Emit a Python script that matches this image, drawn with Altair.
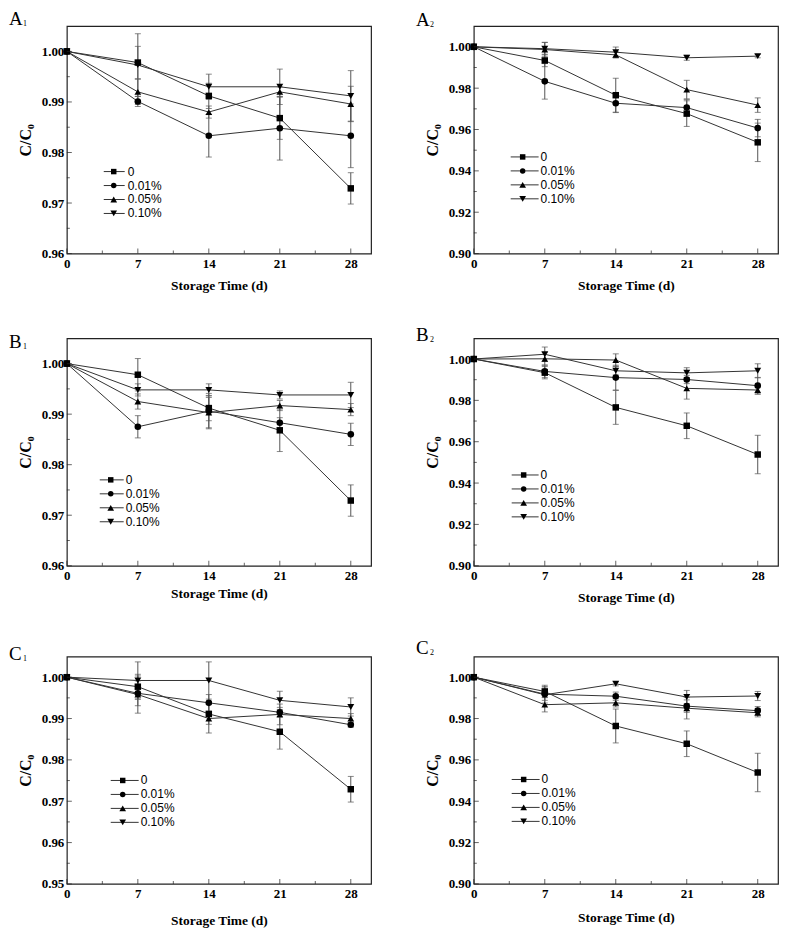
import altair as alt
import pandas as pd

DAYS = [0, 7, 14, 21, 28]
SERIES = ["0", "0.01%", "0.05%", "0.10%"]
SHAPES = ["square", "circle", "triangle-up", "triangle-down"]
X_MAJOR = [0, 7, 14, 21, 28]
X_MINOR = [3.5, 10.5, 17.5, 24.5]

# ---- panel A1 ----
A1_VALS = [
    [1.000, 0.9978, 0.9912, 0.9868, 0.9729],
    [1.000, 0.9901, 0.9833, 0.9848, 0.9833],
    [1.000, 0.9920, 0.9880, 0.9920, 0.9896],
    [1.000, 0.9973, 0.9930, 0.9930, 0.9912],
]
A1_ERRS = [
    [0, 0.0032, 0.0025, 0.0042, 0.0031],
    [0, 0.0010, 0.0042, 0.0063, 0.0063],
    [0, 0.0025, 0.0012, 0.0010, 0.0035],
    [0, 0.0062, 0.0025, 0.0035, 0.0050],
]
# ---- panel A2 ----
A2_VALS = [
    [1.000, 0.9934, 0.9766, 0.9677, 0.9538],
    [1.000, 0.9833, 0.9727, 0.9706, 0.9607],
    [1.000, 0.9987, 0.9961, 0.9793, 0.9718],
    [1.000, 0.9991, 0.9974, 0.9947, 0.9955],
]
A2_ERRS = [
    [0, 0.0030, 0.0082, 0.0062, 0.0093],
    [0, 0.0086, 0.0045, 0.0040, 0.0042],
    [0, 0.0035, 0.0015, 0.0045, 0.0035],
    [0, 0.0030, 0.0025, 0.0012, 0.0008],
]
# ---- panel B1 ----
B1_VALS = [
    [1.000, 0.9978, 0.9912, 0.9868, 0.9729],
    [1.000, 0.9875, 0.9906, 0.9883, 0.9860],
    [1.000, 0.9925, 0.9903, 0.9917, 0.9909],
    [1.000, 0.9948, 0.9948, 0.9938, 0.9938],
]
B1_ERRS = [
    [0, 0.0032, 0.0025, 0.0042, 0.0031],
    [0, 0.0022, 0.0035, 0.0010, 0.0022],
    [0, 0.0015, 0.0030, 0.0010, 0.0012],
    [0, 0.0012, 0.0012, 0.0008, 0.0025],
]
# ---- panel B2 ----
B2_VALS = [
    [1.000, 0.9934, 0.9766, 0.9677, 0.9538],
    [1.000, 0.9940, 0.9910, 0.9901, 0.9871],
    [1.000, 1.0001, 0.9995, 0.9858, 0.9850],
    [1.000, 1.0023, 0.9943, 0.9933, 0.9943],
]
B2_ERRS = [
    [0, 0.0030, 0.0082, 0.0062, 0.0093],
    [0, 0.0030, 0.0060, 0.0020, 0.0040],
    [0, 0.0030, 0.0030, 0.0052, 0.0020],
    [0, 0.0035, 0.0020, 0.0025, 0.0034],
]
# ---- panel C1 ----
C1_VALS = [
    [1.000, 0.9977, 0.9911, 0.9868, 0.9729],
    [1.000, 0.9961, 0.9938, 0.9915, 0.9885],
    [1.000, 0.9958, 0.9900, 0.9910, 0.9900],
    [1.000, 0.9992, 0.9992, 0.9944, 0.9928],
]
C1_ERRS = [
    [0, 0.0030, 0.0025, 0.0042, 0.0031],
    [0, 0.0030, 0.0020, 0.0012, 0.0006],
    [0, 0.0045, 0.0035, 0.0025, 0.0012],
    [0, 0.0045, 0.0045, 0.0022, 0.0022],
]
# ---- panel C2 ----
C2_VALS = [
    [1.000, 0.9931, 0.9764, 0.9678, 0.9539],
    [1.000, 0.9918, 0.9908, 0.9860, 0.9838],
    [1.000, 0.9867, 0.9876, 0.9850, 0.9828],
    [1.000, 0.9915, 0.9968, 0.9904, 0.9909],
]
C2_ERRS = [
    [0, 0.0030, 0.0082, 0.0062, 0.0093],
    [0, 0.0030, 0.0020, 0.0030, 0.0020],
    [0, 0.0035, 0.0020, 0.0052, 0.0020],
    [0, 0.0040, 0.0010, 0.0032, 0.0022],
]

Y_MAJOR_1 = [0.96, 0.97, 0.98, 0.99, 1.00]
Y_MINOR_1 = [0.965, 0.975, 0.985, 0.995]
Y_MAJOR_2 = [0.90, 0.92, 0.94, 0.96, 0.98, 1.00]
Y_MINOR_2 = [0.91, 0.93, 0.95, 0.97, 0.99]
Y_MAJOR_C1 = [0.95, 0.96, 0.97, 0.98, 0.99, 1.00]
Y_MINOR_C1 = [0.955, 0.965, 0.975, 0.985, 0.995]

W = 305
H = 228
SC = H / 233.0
LEG_STEP = 14

PANELS = {
    "A1": dict(letter="A", sub="1", vals=A1_VALS, errs=A1_ERRS, ydom=[0.96, 1.005],
               ymaj=Y_MAJOR_1, ymin=Y_MINOR_1, lab_y=-1, leg=(37, 58, 47, 61, 149)),
    "A2": dict(letter="A", sub="2", vals=A2_VALS, errs=A2_ERRS, ydom=[0.90, 1.01],
               ymaj=Y_MAJOR_2, ymin=Y_MINOR_2, lab_y=0, leg=(37, 65, 49, 67, 134)),
    "B1": dict(letter="B", sub="1", vals=B1_VALS, errs=B1_ERRS, ydom=[0.96, 1.005],
               ymaj=Y_MAJOR_1, ymin=Y_MINOR_1, lab_y=10, leg=(33, 57, 44, 59, 145)),
    "B2": dict(letter="B", sub="2", vals=B2_VALS, errs=B2_ERRS, ydom=[0.90, 1.01],
               ymaj=Y_MAJOR_2, ymin=Y_MINOR_2, lab_y=3, leg=(38, 65, 50, 67, 140)),
    "C1": dict(letter="C", sub="1", vals=C1_VALS, errs=C1_ERRS, ydom=[0.95, 1.005],
               ymaj=Y_MAJOR_C1, ymin=Y_MINOR_C1, lab_y=3, leg=(44, 72, 56, 74, 127)),
    "C2": dict(letter="C", sub="2", vals=C2_VALS, errs=C2_ERRS, ydom=[0.90, 1.01],
               ymaj=Y_MAJOR_2, ymin=Y_MINOR_2, lab_y=-3, leg=(38, 66, 50, 68, 126)),
}

LINE_C = "#333333"
ERR_C = "#555555"


def build_panel(cfg, title_pad):
    rows = []
    for s, vs, es in zip(SERIES, cfg["vals"], cfg["errs"]):
        for d, v, e in zip(DAYS, vs, es):
            rows.append({"day": d, "series": s, "v": v, "lo": v - e, "hi": v + e, "e": e})
    df = pd.DataFrame(rows)

    xs = alt.Scale(domain=[0, 30], nice=False, zero=False)
    ys = alt.Scale(domain=cfg["ydom"], nice=False, zero=False)
    xaxis = alt.Axis(values=X_MAJOR, title="Storage Time (d)", titlePadding=title_pad,
                     ticks=False, grid=False, domain=False, labelPadding=4, format="d",
                     labelFlush=False)
    yaxis = alt.Axis(values=cfg["ymaj"], title="C/C₀", format=".2f", ticks=False,
                     grid=False, domain=False, labelPadding=3, titlePadding=8,
                     titleFontSize=16)

    def X(f):
        return alt.X(f, type="quantitative", scale=xs, axis=xaxis)

    def Y(f):
        return alt.Y(f, type="quantitative", scale=ys, axis=yaxis)

    base = alt.Chart(df)
    lines = base.mark_line(color=LINE_C, strokeWidth=1).encode(
        x=X("day"), y=Y("v"), detail="series:N")
    errb = base.transform_filter("datum.e > 0")
    erule = errb.mark_rule(color=ERR_C, strokeWidth=1).encode(x=X("day"), y=Y("lo"), y2="hi:Q")
    ecap1 = errb.mark_tick(orient="horizontal", size=6, thickness=1, color=ERR_C).encode(
        x=X("day"), y=Y("lo"))
    ecap2 = errb.mark_tick(orient="horizontal", size=6, thickness=1, color=ERR_C).encode(
        x=X("day"), y=Y("hi"))
    pts = base.mark_point(filled=True, opacity=1, color="black").encode(
        x=X("day"), y=Y("v"),
        shape=alt.Shape("series:N", scale=alt.Scale(domain=SERIES, range=SHAPES), legend=None),
        size=alt.Size("series:N", scale=alt.Scale(domain=SERIES, range=[42, 48, 75, 75]), legend=None),
    )

    txmaj = alt.Chart(pd.DataFrame({"t": X_MAJOR})).mark_tick(
        orient="vertical", size=5, thickness=1, color="#222").encode(x=X("t"), y=alt.value(H - 2.5))
    txmin = alt.Chart(pd.DataFrame({"t": X_MINOR})).mark_tick(
        orient="vertical", size=3, thickness=1, color="#222").encode(x=X("t"), y=alt.value(H - 1.5))
    tymaj = alt.Chart(pd.DataFrame({"t": cfg["ymaj"]})).mark_tick(
        orient="horizontal", size=5, thickness=1, color="#222").encode(y=Y("t"), x=alt.value(2.5))
    tymin = alt.Chart(pd.DataFrame({"t": cfg["ymin"]})).mark_tick(
        orient="horizontal", size=3, thickness=1, color="#222").encode(y=Y("t"), x=alt.value(1.5))

    x0, x1, xm, xt, ly0 = cfg["leg"]
    one = pd.DataFrame({"k": [0]})
    leg = []
    for i, s in enumerate(SERIES):
        yy = ly0 * SC + i * LEG_STEP
        leg.append(alt.Chart(one).mark_rule(color=LINE_C, strokeWidth=1).encode(
            x=alt.value(x0), x2=alt.value(x1), y=alt.value(yy)))
        leg.append(alt.Chart(one).mark_point(shape=SHAPES[i], filled=True, color="black",
                                             opacity=1, size=30 if i < 2 else 45).encode(
            x=alt.value(xm), y=alt.value(yy)))
        leg.append(alt.Chart(pd.DataFrame({"label": [s]})).mark_text(
            align="left", baseline="middle", font="Liberation Sans", fontSize=12,
            color="black").encode(x=alt.value(xt), y=alt.value(yy), text="label:N"))

    lab = alt.Chart(pd.DataFrame({"t": [cfg["letter"]]})).mark_text(
        align="left", baseline="alphabetic", font="Liberation Serif", fontSize=19,
        color="black").encode(x=alt.value(-58), y=alt.value(cfg["lab_y"]), text="t:N")
    sub = alt.Chart(pd.DataFrame({"t": [cfg["sub"]]})).mark_text(
        align="left", baseline="alphabetic", font="Liberation Serif", fontSize=8,
        color="black").encode(x=alt.value(-44), y=alt.value(cfg["lab_y"] + 1), text="t:N")

    return alt.layer(lines, erule, ecap1, ecap2, pts, txmaj, txmin, tymaj, tymin,
                     *leg, lab, sub).properties(width=W, height=H)


rowA = alt.hconcat(build_panel(PANELS["A1"], 8), build_panel(PANELS["A2"], 8), spacing=43)
rowB = alt.hconcat(build_panel(PANELS["B1"], 4), build_panel(PANELS["B2"], 8), spacing=43)
rowC = alt.hconcat(build_panel(PANELS["C1"], 13), build_panel(PANELS["C2"], 10), spacing=43)

chart = alt.vconcat(rowA, rowB, rowC, spacing=32).properties(padding=0).configure_view(
    stroke="#222222", strokeWidth=1.2
).configure_axis(
    labelFont="Liberation Serif", labelFontWeight="bold", labelFontSize=13, labelColor="black",
    titleFont="Liberation Serif", titleFontWeight="bold", titleFontSize=13.5, titleColor="black",
)

chart.save("out.html", embed_options={"renderer": "svg", "actions": False})
